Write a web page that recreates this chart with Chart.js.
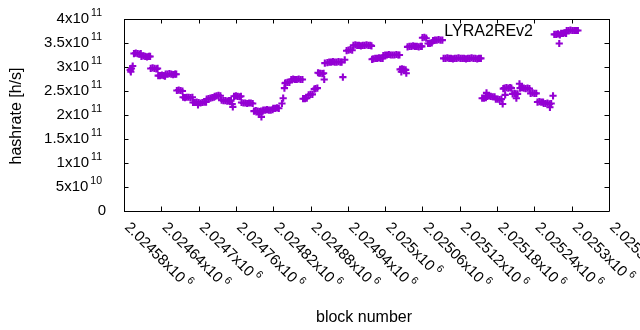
<!DOCTYPE html>
<html>
<head>
<meta charset="utf-8">
<title>LYRA2REv2 hashrate</title>
<script src="https://cdn.jsdelivr.net/npm/chart.js@4.4.1/dist/chart.umd.min.js"></script>
<style>
  html, body { margin: 0; padding: 0; background: #fff; }
</style>
</head>
<body>
<canvas id="hashChart" width="640" height="330"></canvas>
<script>
const seriesName = 'LYRA2REv2';

// block numbers and hashrate (in units of 1e11 h/s)
const blockNumbers = [
  2024590, 2024591, 2024592, 2024594,
  2024596, 2024599, 2024602, 2024605, 2024607,
  2024608, 2024611, 2024614, 2024617, 2024620, 2024622,
  2024623, 2024626, 2024629, 2024632, 2024634,
  2024635, 2024638, 2024641, 2024644, 2024646,
  2024647, 2024650, 2024653, 2024656, 2024659, 2024662, 2024664,
  2024665, 2024668, 2024671, 2024674,
  2024675, 2024678, 2024681, 2024684, 2024687, 2024690,
  2024691, 2024694, 2024697, 2024699, 2024700, 2024703, 2024706, 2024709, 2024712,
  2024713, 2024716, 2024719, 2024722, 2024725,
  2024726, 2024729, 2024732, 2024735,
  2024737, 2024740, 2024743, 2024746, 2024749, 2024752, 2024754, 2024755,
  2024757, 2024760, 2024763, 2024766, 2024768,
  2024769, 2024772, 2024775, 2024778, 2024781, 2024784, 2024787,
  2024789, 2024792, 2024795, 2024797, 2024798, 2024800, 2024801, 2024803,
  2024804, 2024807, 2024810, 2024813, 2024816, 2024819,
  2024820, 2024823, 2024826, 2024829,
  2024834, 2024836, 2024838,
  2024839, 2024840, 2024843, 2024846,
  2024849, 2024852, 2024855, 2024858, 2024861, 2024864, 2024867,
  2024868, 2024871, 2024874,
  2024877, 2024880, 2024883,
  2024886, 2024888, 2024891,
  2024892, 2024894, 2024896, 2024899, 2024901, 2024902, 2024903,
  2024907, 2024910, 2024913, 2024916, 2024919, 2024922, 2024925, 2024928, 2024930,
  2024932, 2024935,
  2024938, 2024941, 2024944, 2024947,
  2024949, 2024952, 2024955, 2024958, 2024961, 2024964, 2024967, 2024970, 2024973, 2024976, 2024978,
  2024979,
  2024981, 2024984, 2024987, 2024990, 2024993, 2024996,
  2024997, 2025000, 2025003, 2025006, 2025009, 2025012, 2025015, 2025018, 2025021, 2025023,
  2025024, 2025026, 2025027, 2025030, 2025033, 2025034,
  2025036, 2025039, 2025042, 2025045, 2025048, 2025051, 2025054, 2025057, 2025059,
  2025060, 2025063, 2025066,
  2025069, 2025072, 2025075,
  2025077, 2025080, 2025083, 2025086, 2025089, 2025092,
  2025094, 2025097, 2025100, 2025103, 2025106, 2025109, 2025112, 2025115, 2025118, 2025121, 2025124,
  2025127, 2025130, 2025133, 2025136, 2025139, 2025142, 2025145, 2025148, 2025151, 2025154,
  2025156, 2025159, 2025162, 2025163,
  2025164, 2025167, 2025170, 2025173, 2025176,
  2025178, 2025181, 2025184, 2025187, 2025189,
  2025190, 2025192, 2025193, 2025195, 2025198, 2025201, 2025203,
  2025205, 2025208, 2025210, 2025211, 2025213,
  2025216,
  2025217, 2025220, 2025223, 2025226, 2025229, 2025232,
  2025234, 2025237, 2025240, 2025243,
  2025245, 2025248, 2025251, 2025254,
  2025255, 2025258, 2025261, 2025264, 2025265, 2025267,
  2025270,
  2025272, 2025275, 2025278, 2025281, 2025280,
  2025283, 2025286, 2025289, 2025291,
  2025292, 2025295, 2025298, 2025301, 2025304, 2025307, 2025310
];
const hashrateE11 = [
  2.94, 2.90, 2.97, 3.02,
  3.28, 3.29, 3.28, 3.27, 3.28,
  3.22, 3.23, 3.22, 3.21, 3.22, 3.22,
  2.97, 2.98, 2.97, 2.96, 2.97,
  2.82, 2.82, 2.83, 2.82, 2.81,
  2.85, 2.85, 2.86, 2.85, 2.84, 2.85, 2.85,
  2.51, 2.52, 2.51, 2.50,
  2.37, 2.36, 2.37, 2.37, 2.36, 2.37,
  2.26, 2.26, 2.27, 2.21, 2.26, 2.25, 2.26, 2.27, 2.27,
  2.33, 2.34, 2.35, 2.36, 2.37,
  2.39, 2.40, 2.41, 2.40,
  2.31, 2.30, 2.30, 2.29, 2.30, 2.30, 2.23, 2.17,
  2.39, 2.40, 2.39, 2.38, 2.39,
  2.26, 2.25, 2.25, 2.24, 2.25, 2.25, 2.24,
  2.08, 2.09, 2.08, 2.01, 2.07, 2.08, 1.96, 2.08,
  2.10, 2.10, 2.11, 2.10, 2.10, 2.11,
  2.14, 2.14, 2.15, 2.14,
  2.24, 2.35, 2.56,
  2.66, 2.67, 2.68, 2.68,
  2.74, 2.75, 2.74, 2.74, 2.75, 2.74, 2.74,
  2.34, 2.34, 2.35,
  2.42, 2.43, 2.43,
  2.54, 2.55, 2.56,
  2.88, 2.87, 2.87, 2.86, 2.87, 2.74, 3.08,
  3.09, 3.10, 3.10, 3.11, 3.10, 3.10, 3.11, 3.10, 3.10,
  2.79, 3.15,
  3.34, 3.35, 3.36, 3.35,
  3.45, 3.46, 3.45, 3.45, 3.44, 3.45, 3.45, 3.46, 3.45, 3.45, 3.44,
  3.16,
  3.17, 3.18, 3.18, 3.19, 3.18, 3.18,
  3.24, 3.25, 3.25, 3.26, 3.25, 3.25, 3.25, 3.26, 3.25, 3.25,
  2.95, 2.90, 2.96, 2.95, 2.94, 2.87,
  3.42, 3.43, 3.43, 3.44, 3.43, 3.43, 3.42, 3.43, 3.43,
  3.61, 3.62, 3.60,
  3.49, 3.49, 3.50,
  3.55, 3.56, 3.56, 3.57, 3.56, 3.56,
  3.18, 3.18, 3.19, 3.18, 3.18, 3.17, 3.18, 3.18, 3.19, 3.18, 3.18,
  3.18, 3.17, 3.18, 3.18, 3.19, 3.18, 3.18, 3.17, 3.18, 3.18,
  2.35, 2.35, 2.36, 2.46,
  2.39, 2.40, 2.39, 2.38, 2.38,
  2.33, 2.33, 2.32, 2.33, 2.23,
  2.55, 2.56, 2.42, 2.57, 2.56, 2.57, 2.56,
  2.44, 2.45, 2.44, 2.35, 2.44,
  2.65,
  2.56, 2.57, 2.56, 2.55, 2.56, 2.55,
  2.45, 2.46, 2.45, 2.45,
  2.27, 2.28, 2.27, 2.27,
  2.24, 2.24, 2.25, 2.23, 2.16, 2.24,
  2.40,
  3.68, 3.68, 3.69, 3.67, 3.49,
  3.70, 3.70, 3.71, 3.70,
  3.76, 3.76, 3.77, 3.76, 3.76, 3.76, 3.76
];

// axis ticks (gnuplot style, mantissa x10^exponent)
const xTicks = [2024580, 2024640, 2024700, 2024760, 2024820, 2024880, 2024940,
                2025000, 2025060, 2025120, 2025180, 2025240, 2025300, 2025360];
const xTickLabels = ['2.02458', '2.02464', '2.0247', '2.02476', '2.02482', '2.02488', '2.02494',
                     '2.025', '2.02506', '2.02512', '2.02518', '2.02524', '2.0253', '2.02536'];
const xTickExponent = '6';
const yTicks = [0, 5e10, 1e11, 1.5e11, 2e11, 2.5e11, 3e11, 3.5e11, 4e11];
const yTickMantissa = ['0', '5', '1', '1.5', '2', '2.5', '3', '3.5', '4'];
const yTickExponent = ['', '10', '11', '11', '11', '11', '11', '11', '11'];

const xTitle = 'block number';
const yTitle = 'hashrate [h/s]';

const fontTick = '15px "Liberation Sans", Arial, sans-serif';
const fontTitle = '16px "Liberation Sans", Arial, sans-serif';
const fontSup = '10.5px "Liberation Sans", Arial, sans-serif';
const purple = '#9400d3';

// frame, inward ticks, tick labels, titles and key like gnuplot draws them
const gnuplotFrame = {
  id: 'gnuplotFrame',
  afterDatasetsDraw(chart) {
    const ctx = chart.ctx;
    const area = chart.chartArea;
    const xs = chart.scales.x;
    const ys = chart.scales.y;
    const tickLen = 4.5;

    ctx.save();
    ctx.strokeStyle = '#000';
    ctx.lineWidth = 1;
    ctx.beginPath();
    ctx.rect(Math.round(area.left) + 0.5, Math.round(area.top) + 0.5,
             Math.round(area.right - area.left), Math.round(area.bottom - area.top));
    xTicks.forEach(v => {
      const px = Math.round(xs.getPixelForValue(v)) + 0.5;
      ctx.moveTo(px, area.bottom); ctx.lineTo(px, area.bottom - tickLen);
      ctx.moveTo(px, area.top); ctx.lineTo(px, area.top + tickLen);
    });
    yTicks.forEach(v => {
      const py = Math.round(ys.getPixelForValue(v)) + 0.5;
      ctx.moveTo(area.left, py); ctx.lineTo(area.left + tickLen, py);
      ctx.moveTo(area.right, py); ctx.lineTo(area.right - tickLen, py);
    });
    ctx.stroke();

    ctx.fillStyle = '#000';

    // y tick labels
    const yLabelRight = 102;
    yTicks.forEach((v, i) => {
      const py = ys.getPixelForValue(v);
      ctx.textBaseline = 'middle';
      ctx.textAlign = 'right';
      if (!yTickExponent[i]) {
        ctx.font = fontTick;
        ctx.fillText(yTickMantissa[i], yLabelRight + 4, py);
        return;
      }
      ctx.font = fontSup;
      const expW = ctx.measureText(yTickExponent[i]).width;
      ctx.fillText(yTickExponent[i], yLabelRight, py - 5.5);
      ctx.font = fontTick;
      ctx.fillText(yTickMantissa[i] + 'x10', yLabelRight - expW - 2, py);
    });

    // x tick labels, rotated -45 degrees
    xTicks.forEach((v, i) => {
      const px = xs.getPixelForValue(v);
      ctx.save();
      ctx.translate(px + 3, area.bottom + 14);
      ctx.rotate(Math.PI / 4);
      ctx.textAlign = 'left';
      ctx.textBaseline = 'middle';
      ctx.font = fontTick;
      const txt = xTickLabels[i] + 'x10';
      const w = ctx.measureText(txt).width;
      ctx.fillText(txt, 0, 0);
      ctx.font = fontSup;
      ctx.fillText(xTickExponent, w + 3, -5.5);
      ctx.restore();
    });

    // axis titles
    ctx.font = fontTitle;
    ctx.textAlign = 'center';
    ctx.textBaseline = 'middle';
    ctx.fillText(xTitle, 364, 318);
    ctx.save();
    ctx.translate(17, 116);
    ctx.rotate(-Math.PI / 2);
    ctx.fillText(yTitle, 0, 0);
    ctx.restore();

    // key
    ctx.textAlign = 'right';
    ctx.fillText(chart.data.datasets[0].label, 533, 32);
    ctx.restore();
  }
};

const points = blockNumbers.map((b, i) => ({ x: b, y: hashrateE11[i] * 1e11 }));

const myChart = new Chart(document.getElementById('hashChart'), {
  type: 'scatter',
  data: {
    datasets: [{
      label: seriesName,
      data: points,
      pointStyle: 'cross',
      pointRadius: 3.6,
      pointHoverRadius: 3.6,
      pointBorderWidth: 2.1,
      borderColor: purple,
      backgroundColor: purple
    }]
  },
  options: {
    responsive: false,
    animation: false,
    events: [],
    layout: { padding: { left: 124, right: 31, top: 19, bottom: 119 } },
    plugins: {
      legend: { display: false },
      tooltip: { enabled: false }
    },
    scales: {
      x: { type: 'linear', display: false, min: xTicks[0], max: xTicks[xTicks.length - 1] },
      y: { type: 'linear', display: false, min: yTicks[0], max: yTicks[yTicks.length - 1] }
    }
  },
  plugins: [gnuplotFrame]
});
</script>
</body>
</html>
